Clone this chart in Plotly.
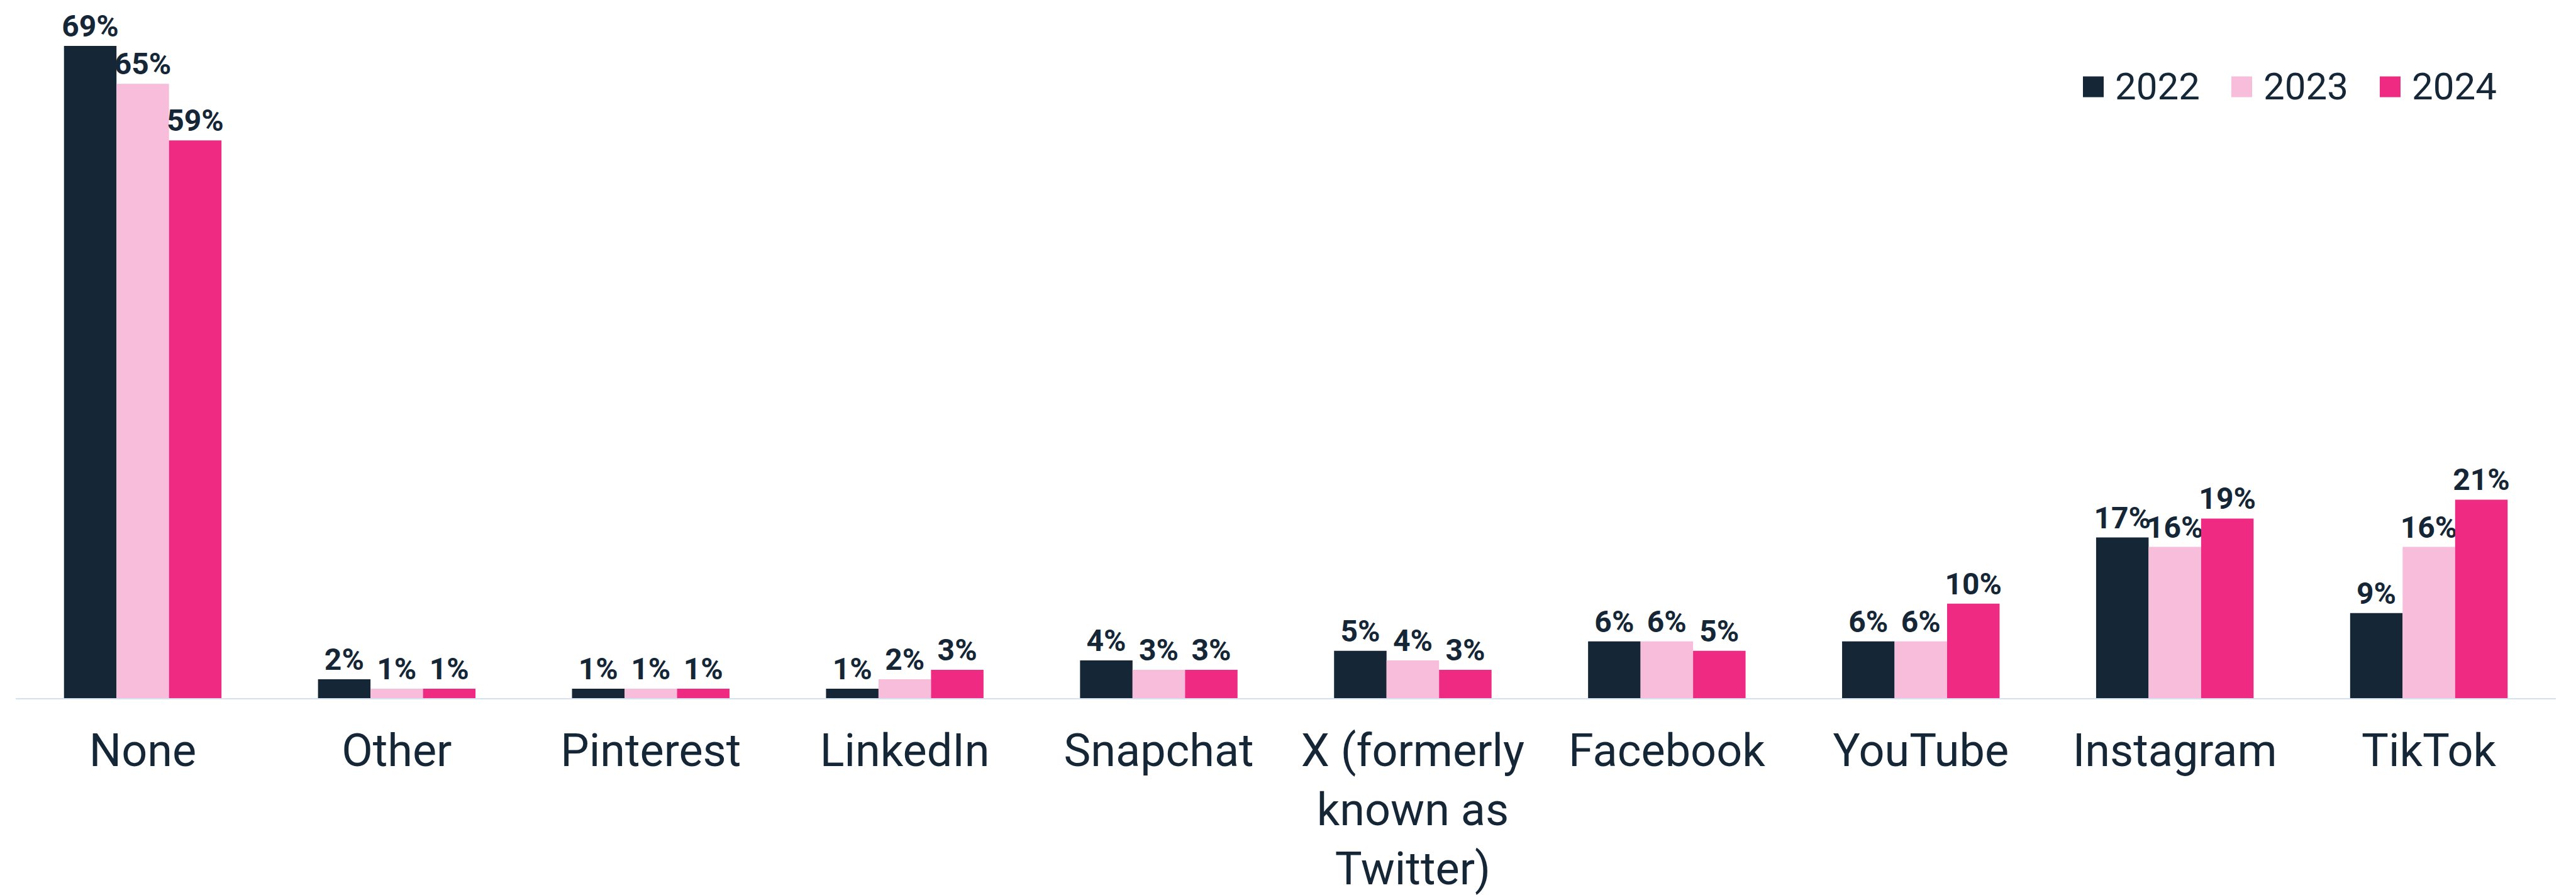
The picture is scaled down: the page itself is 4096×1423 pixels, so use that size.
import plotly.graph_objects as go

categories = ["None", "Other", "Pinterest", "LinkedIn", "Snapchat",
              "X (formerly<br>known as<br>Twitter)", "Facebook", "YouTube",
              "Instagram", "TikTok"]
series_names = ["2022", "2023", "2024"]
values_2022 = [69, 2, 1, 1, 4, 5, 6, 6, 17, 9]
values_2023 = [65, 1, 1, 2, 3, 4, 6, 6, 16, 16]
values_2024 = [59, 1, 1, 3, 3, 3, 5, 10, 19, 21]
series_values = [values_2022, values_2023, values_2024]
colors = ["#152736", "#F8BDDA", "#EE2A82"]
DARK = "#152736"

W, H = 4096, 1423
ML, MR, MT, MB = 25, 32, 28, 313

fig = go.Figure()
for name, vals, col in zip(series_names, series_values, colors):
    fig.add_trace(go.Bar(
        x=categories, y=vals, name=name,
        marker=dict(color=col, line=dict(width=0)),
        text=[f"{v}%" for v in vals],
        textposition="outside", textangle=0, constraintext="none",
        cliponaxis=False,
        textfont=dict(family="Roboto", size=48, color=DARK, weight="bold"),
        showlegend=False,
    ))

# custom legend (large square swatches)
def px_to_paper_x(px):
    return (px - ML) / (W - ML - MR)

def px_to_paper_y(py):
    return (H - MB - py) / (H - MT - MB)

legend_left = 3312
legend_pitch = 236
sw = 33
legend_cy = 138
shapes = []
annotations = []
for i, (name, col) in enumerate(zip(series_names, colors)):
    x0 = legend_left + i * legend_pitch
    shapes.append(dict(type="rect", xref="paper", yref="paper",
                       x0=px_to_paper_x(x0), x1=px_to_paper_x(x0 + sw),
                       y0=px_to_paper_y(legend_cy + sw / 2), y1=px_to_paper_y(legend_cy - sw / 2),
                       fillcolor=col, line=dict(width=0)))
    annotations.append(dict(xref="paper", yref="paper",
                            x=px_to_paper_x(x0 + sw + 16), y=px_to_paper_y(legend_cy),
                            xanchor="left", yanchor="middle", showarrow=False,
                            text=name, font=dict(family="Roboto", size=60, color=DARK)))

fig.update_layout(
    width=W, height=H,
    margin=dict(l=ML, r=MR, t=MT, b=MB, autoexpand=False),
    paper_bgcolor="white", plot_bgcolor="white",
    barmode="group", bargap=0.38, bargroupgap=0,
    showlegend=False,
    shapes=shapes, annotations=annotations,
    font=dict(family="Roboto", color=DARK),
)
fig.update_xaxes(
    automargin=False,
    showline=True, linecolor="#D5E1EE", linewidth=2,
    showgrid=False, zeroline=False,
    ticks="outside", ticklen=20, tickcolor="rgba(0,0,0,0)",
    tickfont=dict(family="Roboto", size=72, color=DARK),
    tickangle=0,
)
fig.update_yaxes(visible=False, range=[0, 72], showgrid=False, zeroline=False,
                 automargin=False)

fig.write_html("out.html")
